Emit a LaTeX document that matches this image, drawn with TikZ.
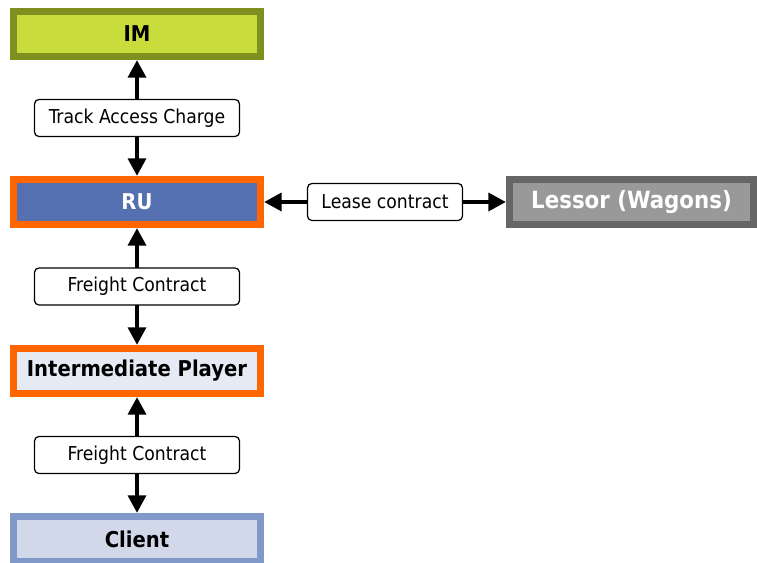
\documentclass[tikz,border=0pt]{standalone}
\usepackage{fontspec}
\setmainfont{DejaVu Sans Condensed}
\usetikzlibrary{arrows.meta}
\definecolor{imfill}{RGB}{200,220,60}
\definecolor{imline}{RGB}{127,143,32}
\definecolor{rufill}{RGB}{84,112,176}
\definecolor{orangeline}{RGB}{255,102,0}
\definecolor{lessorfill}{RGB}{153,153,153}
\definecolor{lessorline}{RGB}{102,102,102}
\definecolor{ipfill}{RGB}{230,234,244}
\definecolor{clientfill}{RGB}{208,216,234}
\definecolor{clientline}{RGB}{128,153,200}

\begin{document}
\begin{tikzpicture}[x=0.02cm,y=-0.02cm,
   box/.style={rectangle,draw,line width=4pt,minimum width=4.94cm,
    minimum height=0.9cm,inner sep=0pt,font=\fontsize{12.4}{14}\selectfont\bfseries},
   tag/.style={rectangle,draw,rounded corners=2.5pt,fill=white,line width=0.7pt,
    minimum width=4.1cm,minimum height=0.74cm,inner sep=0pt,font=\fontsize{10.9}{13}\selectfont},
   link/.style={line width=2.8pt,{Triangle[length=10pt,width=10pt]}-{Triangle[length=10pt,width=10pt]}}
    ]
    \useasboundingbox (0,0) rectangle (757,563);

    % Boxes:
    \node[box,draw=imline,fill=imfill] at (137,34) (im) {IM};
    \node[box,draw=orangeline,fill=rufill,text=white] at (137,202) (ru) {RU};
    \node[box,draw=lessorline,fill=lessorfill,text=white,minimum width=4.88cm,
      font=\fontsize{13.5}{15}\selectfont\bfseries] at (631.5,202) (lessor) {Lessor (Wagons)};
    \node[box,draw=orangeline,fill=ipfill] at (137,371) (ip) {Intermediate Player};
    \node[box,draw=clientline,fill=clientfill] at (137,539) (client) {Client};

    % arrows with their labels

    \draw[link] (im) -- (ru) node[tag,midway] (charge) {Track Access Charge};
    \draw[link] (ru) -- (lessor) node[tag,midway,minimum width=3.1cm] (lease) {Lease contract};
    \draw[link] (ru) -- (ip) node[tag,midway] (freight1) {Freight Contract};
    \draw[link] (ip) -- (client) node[tag,midway] (freight2) {Freight Contract};

\end{tikzpicture}
\end{document}
